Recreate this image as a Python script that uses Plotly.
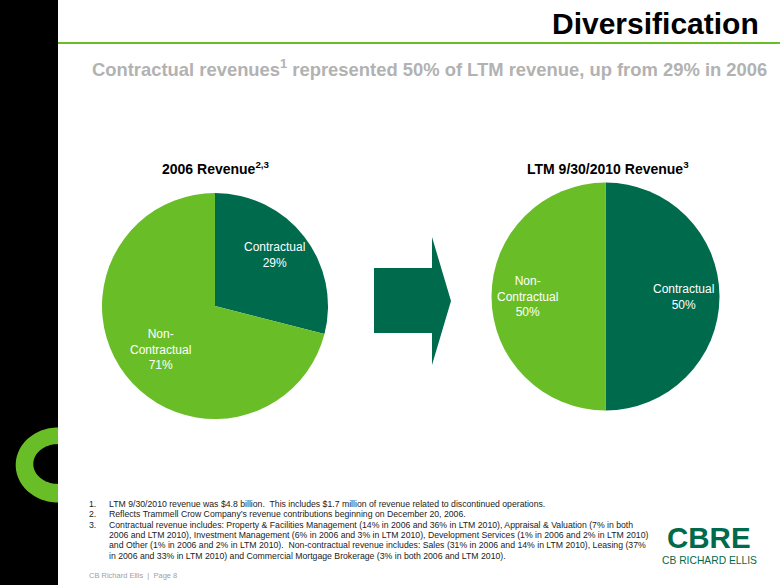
import numpy as np
import plotly.graph_objects as go

# ---------------- data ----------------
segments = ["Contractual", "Non-Contractual"]
rev_2006 = [29, 71]
rev_ltm2010 = [50, 50]
pie_titles = ["2006 Revenue<sup>2,3</sup>", "LTM 9/30/2010 Revenue<sup>3</sup>"]
title_text = "Diversification"
subtitle_text = ("Contractual revenues<sup>1</sup> represented 50% of LTM revenue, "
                 "up from 29% in 2006")
footnotes = [
    ("1.", "LTM 9/30/2010 revenue was $4.8 billion.\u00a0 This includes $1.7 million of revenue related to discontinued operations."),
    ("2.", "Reflects Trammell Crow Company\u2019s revenue contributions beginning on December 20, 2006."),
    ("3.", "Contractual revenue includes: Property & Facilities Management (14% in 2006 and 36% in LTM 2010), Appraisal & Valuation (7% in both"),
    ("", "2006 and LTM 2010), Investment Management (6% in 2006 and 3% in LTM 2010), Development Services (1% in 2006 and 2% in LTM 2010)"),
    ("", "and Other (1% in 2006 and 2% in LTM 2010).\u00a0 Non-contractual revenue includes: Sales (31% in 2006 and 14% in LTM 2010), Leasing (37%"),
    ("", "in 2006 and 33% in LTM 2010) and Commercial Mortgage Brokerage (3% in both 2006 and LTM 2010)."),
]
page_label = "CB Richard Ellis\u00a0 |\u00a0 Page 8"

# ---------------- style ----------------
W, H = 780, 585
DARK = "#006A4D"
LIGHT = "#69BE28"
FONT = "Arial, Liberation Sans, sans-serif"


def X(px):
    return px / W


def Y(py):
    return 1 - py / H


def path_from(points):
    return "M " + " L ".join(f"{X(x):.5f},{Y(y):.5f}" for x, y in points) + " Z"


fig = go.Figure()

# pies
pie_specs = [
    (rev_2006, (215, 306), 113),
    (rev_ltm2010, (605.5, 296.5), 114),
]
for vals, (cx, cy), r in pie_specs:
    fig.add_trace(go.Pie(
        labels=segments, values=vals, sort=False, direction="clockwise",
        rotation=0, textinfo="none", hoverinfo="skip", showlegend=False,
        marker=dict(colors=[DARK, LIGHT], line=dict(width=0)),
        domain=dict(x=[X(cx - r), X(cx + r)], y=[Y(cy + r), Y(cy - r)]),
    ))

shapes = []
# black left bar
shapes.append(dict(type="rect", xref="paper", yref="paper", x0=0, x1=X(58),
                   y0=0, y1=1, fillcolor="black", line=dict(width=0), layer="below"))
# green rule under the title
shapes.append(dict(type="line", xref="paper", yref="paper", x0=X(58), x1=1,
                   y0=Y(43), y1=Y(43), line=dict(color=LIGHT, width=2)))
# green "C" ring in the black bar
t = np.linspace(np.pi / 2, 3 * np.pi / 2, 60)
outer = [(58 + 42.3 * np.cos(a), 465 - 37.5 * np.sin(a)) for a in t]
inner = [(58 + 24.7 * np.cos(a), 464 - 19.9 * np.sin(a)) for a in t[::-1]]
shapes.append(dict(type="path", xref="paper", yref="paper",
                   path=path_from(outer + inner), fillcolor=LIGHT, line=dict(width=0)))
# block arrow between the pies
arrow = [(374, 268), (432, 268), (432, 237), (451, 301), (432, 365), (432, 333), (374, 333)]
shapes.append(dict(type="path", xref="paper", yref="paper",
                   path=path_from(arrow), fillcolor=DARK, line=dict(width=0)))

ann = []


def add_text(text, x, y, size, color, xanchor="center", yanchor="middle", bold=False, align="center"):
    if bold:
        text = f"<b>{text}</b>"
    ann.append(dict(text=text, x=X(x), y=Y(y), xref="paper", yref="paper",
                    xanchor=xanchor, yanchor=yanchor, showarrow=False, align=align,
                    font=dict(family=FONT, size=size, color=color)))


add_text(title_text, 761, 23.5, 30, "black", xanchor="right", bold=True)
add_text(subtitle_text, 429, 68, 18.4, "#B2B2B2", bold=True)
add_text(pie_titles[0], 216, 168, 14, "black", bold=True)
add_text(pie_titles[1], 608, 168, 14, "black", bold=True)


def seg_label(name, v):
    return name.replace("Non-", "Non-<br>") + f"<br>{v}%"


add_text(seg_label(segments[0], rev_2006[0]), 274, 254.5, 12, "white")
add_text(seg_label(segments[1], rev_2006[1]), 160, 349, 12, "white")
add_text(seg_label(segments[0], rev_ltm2010[0]), 683, 296.5, 12, "white")
add_text(seg_label(segments[1], rev_ltm2010[1]), 527, 296.7, 12, "white")

# footnotes
fy = [504, 514.3, 524.7, 535, 545.3, 555.7]
for (num, txt), y in zip(footnotes, fy):
    if num:
        add_text(num, 87, y, 8.7, "#222222", xanchor="left")
    add_text(txt, 106.5, y, 8.7, "#222222", xanchor="left")
add_text(page_label, 87, 575, 7.5, "#A0A0A0", xanchor="left")

# logo
add_text("CBRE", 709, 537.5, 29.5, DARK, bold=True)
add_text("CB RICHARD ELLIS", 709, 560, 10.3, DARK)

fig.update_layout(
    width=W, height=H, margin=dict(l=0, r=0, t=0, b=0),
    paper_bgcolor="white", plot_bgcolor="white",
    shapes=shapes, annotations=ann, showlegend=False,
)

fig.write_html("out.html")
